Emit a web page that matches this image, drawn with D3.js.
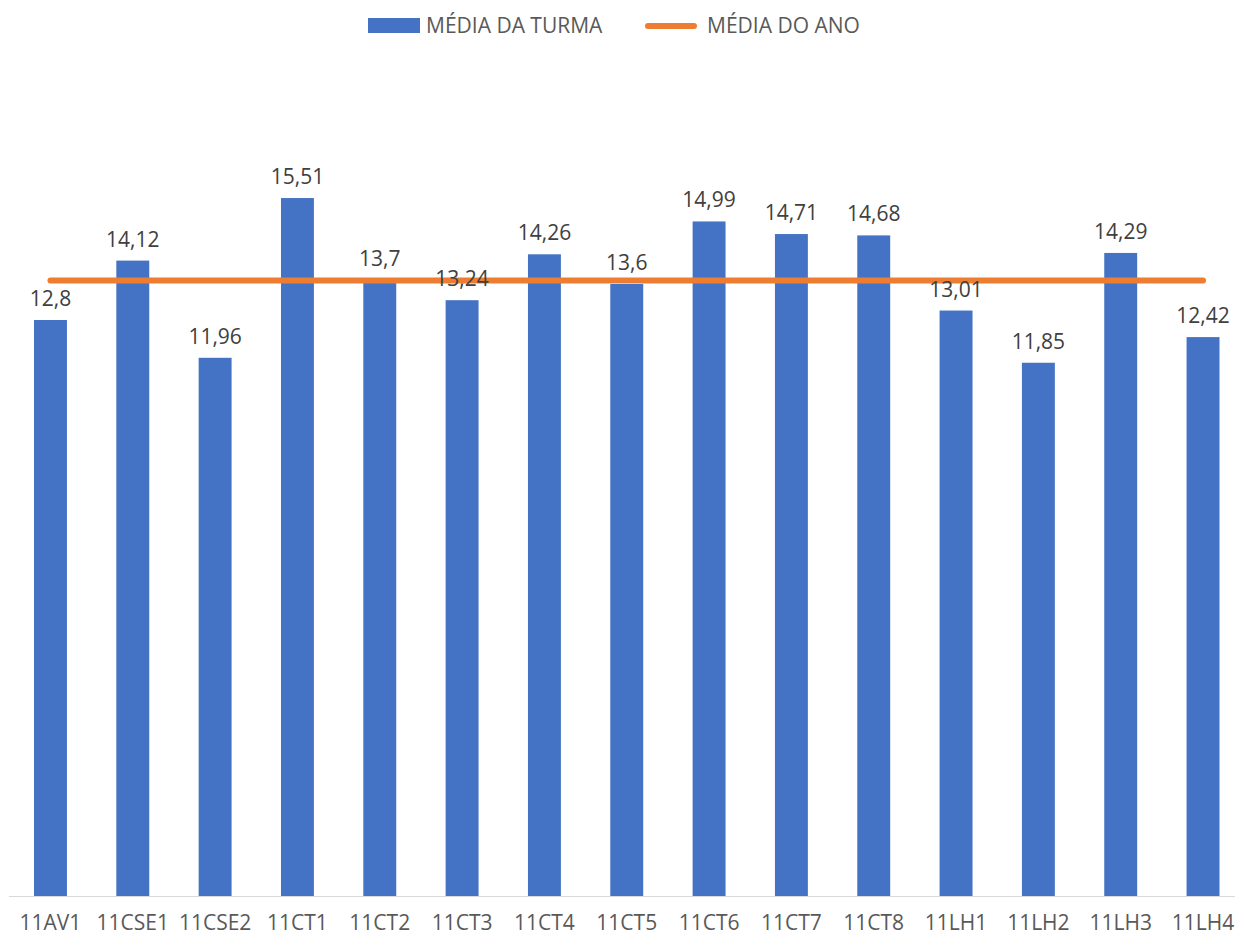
<!DOCTYPE html>
<meta charset="utf-8">
<style>
body { margin: 0; background: #fff; }
text { font-family: "Open Sans", sans-serif; }
.axis-label { fill: #595959; font-size: 21px; }
.value-label { fill: #404040; font-size: 21px; }
.legend text { fill: #595959; font-size: 21px; }
</style>
<svg width="1235" height="937"></svg>
<script src="https://d3js.org/d3.v7.min.js"></script>
<script>

var classes = ["11AV1", "11CSE1", "11CSE2", "11CT1", "11CT2", "11CT3", "11CT4", "11CT5",
               "11CT6", "11CT7", "11CT8", "11LH1", "11LH2", "11LH3", "11LH4"];
var mediaTurma = [12.8, 14.12, 11.96, 15.51, 13.7, 13.24, 14.26, 13.6,
                  14.99, 14.71, 14.68, 13.01, 11.85, 14.29, 12.42];
var mediaAno = [13.68, 13.68, 13.68, 13.68, 13.68, 13.68, 13.68, 13.68,
                13.68, 13.68, 13.68, 13.68, 13.68, 13.68, 13.68];
var seriesNames = ["MÉDIA DA TURMA", "MÉDIA DO ANO"];

var svg = d3.select("svg");

var blue = "#4472c4",
    orange = "#ed7d31";

var x = d3.scaleBand()
    .domain(classes)
    .range([9.3, 1244.2])
    .paddingInner(0.6)
    .paddingOuter(0.3);

var y = d3.scaleLinear()
    .domain([0, 18])
    .range([896, 86]);

// bars
svg.selectAll("rect.bar")
    .data(classes)
  .enter().append("rect")
    .attr("class", "bar")
    .attr("x", function(d) { return x(d); })
    .attr("y", function(d, i) { return y(mediaTurma[i]); })
    .attr("width", x.bandwidth())
    .attr("height", function(d, i) { return y(0) - y(mediaTurma[i]); })
    .attr("fill", blue);

// axis line
svg.append("line")
    .attr("x1", 9).attr("x2", 1235)
    .attr("y1", y(0) + 0.5).attr("y2", y(0) + 0.5)
    .attr("stroke", "#d9d9d9")
    .attr("stroke-width", 1);

// category labels
svg.selectAll("text.axis-label")
    .data(classes)
  .enter().append("text")
    .attr("class", "axis-label")
    .attr("x", function(d) { return x(d) + x.bandwidth() / 2; })
    .attr("y", 930)
    .attr("text-anchor", "middle")
    .text(function(d) { return d; });

// average line
var line = d3.line()
    .x(function(d, i) { return x(classes[i]) + x.bandwidth() / 2; })
    .y(function(d) { return y(d); });

svg.append("path")
    .datum(mediaAno)
    .attr("d", line)
    .attr("fill", "none")
    .attr("stroke", orange)
    .attr("stroke-width", 6)
    .attr("stroke-linecap", "round");

// value labels
svg.selectAll("text.value-label")
    .data(mediaTurma)
  .enter().append("text")
    .attr("class", "value-label")
    .attr("x", function(d, i) { return x(classes[i]) + x.bandwidth() / 2; })
    .attr("y", function(d) { return y(d) - 14; })
    .attr("text-anchor", "middle")
    .text(function(d) { return String(d).replace(".", ","); });

// legend
var legend = svg.append("g").attr("class", "legend");

legend.append("rect")
    .attr("x", 368).attr("y", 18)
    .attr("width", 52).attr("height", 15)
    .attr("fill", blue);
legend.append("text")
    .attr("x", 426).attr("y", 33)
    .text(seriesNames[0]);

legend.append("line")
    .attr("x1", 648).attr("x2", 694)
    .attr("y1", 26).attr("y2", 26)
    .attr("stroke", orange)
    .attr("stroke-width", 6)
    .attr("stroke-linecap", "round");
legend.append("text")
    .attr("x", 707).attr("y", 33)
    .text(seriesNames[1]);

</script>
